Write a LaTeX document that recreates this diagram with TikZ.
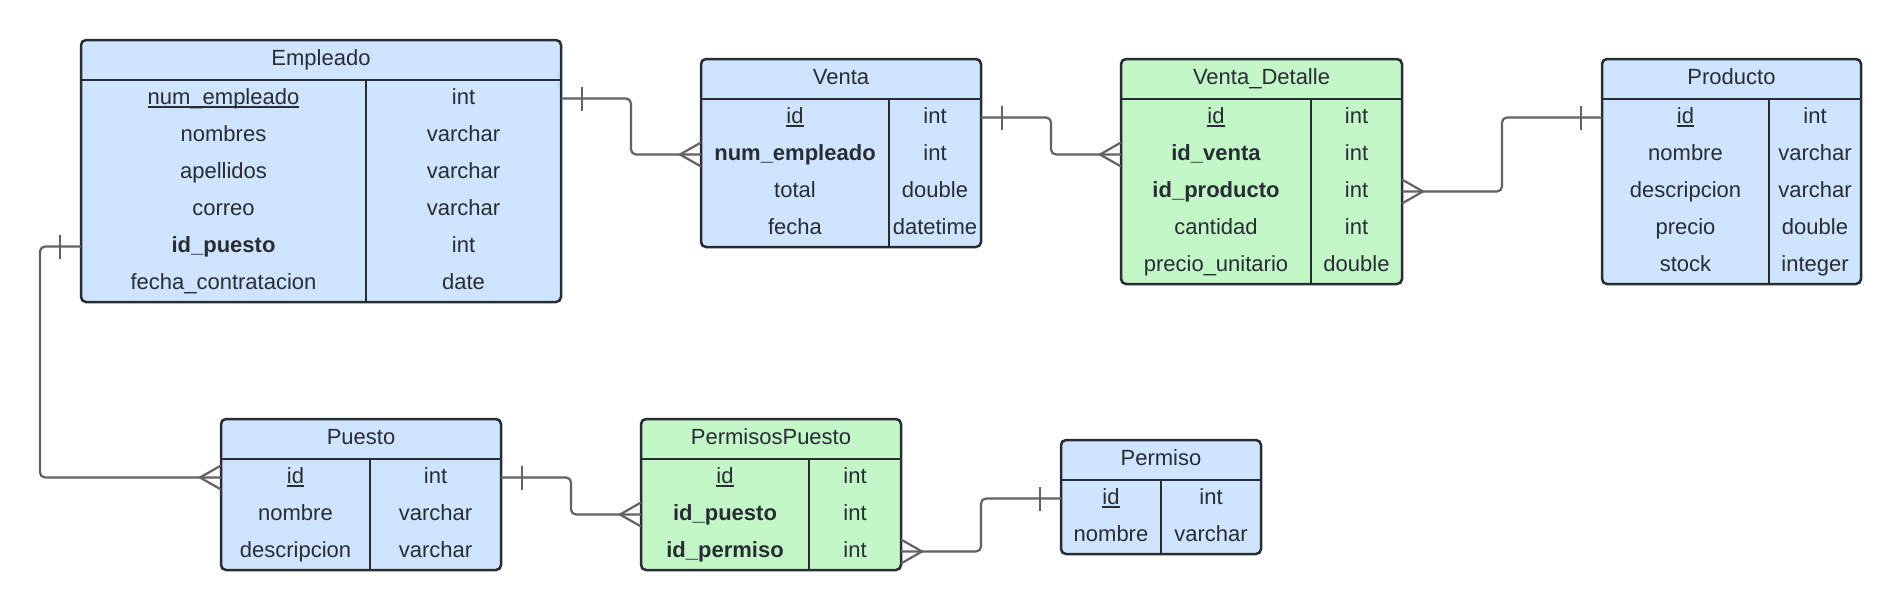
\documentclass[tikz,border=0pt]{standalone}
\usepackage{fontspec}
\setmainfont{Liberation Sans}
\usetikzlibrary{calc}
\definecolor{tblblue}{HTML}{CFE4FF}
\definecolor{tblgreen}{HTML}{C3F7C8}
\definecolor{tblline}{HTML}{282C33}
\definecolor{connline}{HTML}{626262}
\newcommand{\pk}[1]{\setbox0\hbox{#1}\rlap{\rule[-3.5pt]{\wd0}{1.8pt}}\box0}
\begin{document}
\begin{tikzpicture}[
    x=1pt, y=-1pt,
    every node/.style={font=\fontsize{22}{26}\selectfont, text=tblline},
    tbl/.style={draw=tblline, line width=2.5pt, rounded corners=5pt, inner sep=0pt, outer sep=0pt, anchor=north west},
    rule/.style={draw=tblline, line width=2.5pt},
    cell/.style={inner sep=0pt, text height=16pt, text depth=5pt},
    conn/.style={draw=connline, line width=2.2pt, rounded corners=5pt},
    onebar/.pic={\draw[conn, sharp corners] (21,-12) -- (21,12);},
    crowfoot/.pic={\draw[conn, sharp corners] (0,-12) -- (21,0) -- (0,12);}
  ]
  \useasboundingbox (0,0) rectangle (1901,611);

  % Empleado
  \node[tbl, fill=tblblue, minimum width=480pt, minimum height=262pt] (empleado) at (81,40) {};
  \node[cell] (empleado-t) at (321,60) {Empleado};
  \draw[rule] (81,80) -- (561,80) (366,80) -- (366,302);
  \foreach \i/\f/\t in {1/\pk{num\_empleado}/int, 2/nombres/varchar, 3/apellidos/varchar,
      4/correo/varchar, 5/\textbf{id\_puesto}/int, 6/fecha\_contratacion/date}{
    \node[cell] (empleado-\i) at (223.5,{80+37*(\i-.5)}) {\f};
    \node[cell] (empleado-\i t) at (463.5,{80+37*(\i-.5)}) {\t};
  }

  % Venta
  \node[tbl, fill=tblblue, minimum width=280pt, minimum height=188pt] (venta) at (701,59) {};
  \node[cell] (venta-t) at (841,79) {Venta};
  \draw[rule] (701,99) -- (981,99) (889,99) -- (889,247);
  \foreach \i/\f/\t in {1/\pk{id}/int, 2/\textbf{num\_empleado}/int, 3/total/double, 4/fecha/datetime}{
    \node[cell] (venta-\i) at (795,{99+37*(\i-.5)}) {\f};
    \node[cell] (venta-\i t) at (935,{99+37*(\i-.5)}) {\t};
  }

  % Venta_Detalle
  \node[tbl, fill=tblgreen, minimum width=281pt, minimum height=225pt] (detalle) at (1121,59) {};
  \node[cell] (detalle-t) at (1261.5,79) {Venta\_Detalle};
  \draw[rule] (1121,99) -- (1402,99) (1311,99) -- (1311,284);
  \foreach \i/\f/\t in {1/\pk{id}/int, 2/\textbf{id\_venta}/int, 3/\textbf{id\_producto}/int,
      4/cantidad/int, 5/precio\_unitario/double}{
    \node[cell] (detalle-\i) at (1216,{99+37*(\i-.5)}) {\f};
    \node[cell] (detalle-\i t) at (1356.5,{99+37*(\i-.5)}) {\t};
  }

  % Producto
  \node[tbl, fill=tblblue, minimum width=259pt, minimum height=225pt] (producto) at (1602,59) {};
  \node[cell] (producto-t) at (1731.5,79) {Producto};
  \draw[rule] (1602,99) -- (1861,99) (1769,99) -- (1769,284);
  \foreach \i/\f/\t in {1/\pk{id}/int, 2/nombre/varchar, 3/descripcion/varchar,
      4/precio/double, 5/stock/integer}{
    \node[cell] (producto-\i) at (1685.5,{99+37*(\i-.5)}) {\f};
    \node[cell] (producto-\i t) at (1815,{99+37*(\i-.5)}) {\t};
  }

  % Puesto
  \node[tbl, fill=tblblue, minimum width=280pt, minimum height=151pt] (puesto) at (221,419) {};
  \node[cell] (puesto-t) at (361,439) {Puesto};
  \draw[rule] (221,459) -- (501,459) (370,459) -- (370,570);
  \foreach \i/\f/\t in {1/\pk{id}/int, 2/nombre/varchar, 3/descripcion/varchar}{
    \node[cell] (puesto-\i) at (295.5,{459+37*(\i-.5)}) {\f};
    \node[cell] (puesto-\i t) at (435.5,{459+37*(\i-.5)}) {\t};
  }

  % PermisosPuesto
  \node[tbl, fill=tblgreen, minimum width=260pt, minimum height=151pt] (pp) at (641,419) {};
  \node[cell] (pp-t) at (771,439) {PermisosPuesto};
  \draw[rule] (641,459) -- (901,459) (809,459) -- (809,570);
  \foreach \i/\f/\t in {1/\pk{id}/int, 2/\textbf{id\_puesto}/int, 3/\textbf{id\_permiso}/int}{
    \node[cell] (pp-\i) at (725,{459+37*(\i-.5)}) {\f};
    \node[cell] (pp-\i t) at (855,{459+37*(\i-.5)}) {\t};
  }

  % Permiso
  \node[tbl, fill=tblblue, minimum width=200pt, minimum height=114pt] (permiso) at (1061,440) {};
  \node[cell] (permiso-t) at (1161,460) {Permiso};
  \draw[rule] (1061,480) -- (1261,480) (1161,480) -- (1161,554);
  \foreach \i/\f/\t in {1/\pk{id}/int, 2/nombre/varchar}{
    \node[cell] (permiso-\i) at (1111,{480+37*(\i-.5)}) {\f};
    \node[cell] (permiso-\i t) at (1211,{480+37*(\i-.5)}) {\t};
  }

  % relations
  \coordinate (e-v1) at (empleado-1 -| empleado.east);
  \coordinate (e-v2) at (venta-2 -| venta.west);
  \draw[conn] (e-v1) -| ($(e-v1)!.5!(e-v2)$) |- (e-v2);
  \pic at (e-v1) {onebar};
  \pic[rotate=180] at (e-v2) {crowfoot};

  \coordinate (v-d1) at (venta-1 -| venta.east);
  \coordinate (v-d2) at (detalle-2 -| detalle.west);
  \draw[conn] (v-d1) -| ($(v-d1)!.5!(v-d2)$) |- (v-d2);
  \pic at (v-d1) {onebar};
  \pic[rotate=180] at (v-d2) {crowfoot};

  \coordinate (p-d1) at (producto-1 -| producto.west);
  \coordinate (p-d2) at (detalle-3 -| detalle.east);
  \draw[conn] (p-d1) -| ($(p-d1)!.5!(p-d2)$) |- (p-d2);
  \pic[rotate=180] at (p-d1) {onebar};
  \pic at (p-d2) {crowfoot};

  \coordinate (e-p1) at (empleado-5 -| empleado.west);
  \coordinate (e-p2) at (puesto-1 -| puesto.west);
  \draw[conn] (e-p1) -- ++(-41,0) |- (e-p2);
  \pic[rotate=180] at (e-p1) {onebar};
  \pic[rotate=180] at (e-p2) {crowfoot};

  \coordinate (p-pp1) at (puesto-1 -| puesto.east);
  \coordinate (p-pp2) at (pp-2 -| pp.west);
  \draw[conn] (p-pp1) -| ($(p-pp1)!.5!(p-pp2)$) |- (p-pp2);
  \pic at (p-pp1) {onebar};
  \pic[rotate=180] at (p-pp2) {crowfoot};

  \coordinate (pe-pp1) at (permiso-1 -| permiso.west);
  \coordinate (pe-pp2) at (pp-3 -| pp.east);
  \draw[conn] (pe-pp1) -| ($(pe-pp1)!.5!(pe-pp2)$) |- (pe-pp2);
  \pic[rotate=180] at (pe-pp1) {onebar};
  \pic at (pe-pp2) {crowfoot};
\end{tikzpicture}
\end{document}
